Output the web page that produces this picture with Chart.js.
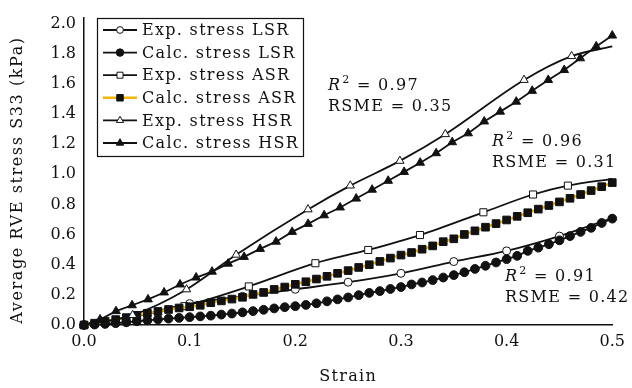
<!DOCTYPE html>
<html><head><meta charset="utf-8">
<script src="https://cdn.jsdelivr.net/npm/chart.js@4.4.1/dist/chart.umd.min.js"></script>
<style>html,body{margin:0;padding:0;background:#fff}#wrap{width:632px;height:388px}</style>
</head><body><div id="wrap"><canvas id="c" width="632" height="388"></canvas></div>
<script>
const xTicks = [0, 0.1, 0.2, 0.3, 0.4, 0.5];
const yTicks = [0, 0.2, 0.4, 0.6, 0.8, 1.0, 1.2, 1.4, 1.6, 1.8, 2.0];
const xTitle = 'Strain';
const yTitle = 'Average RVE stress S33 (kPa)';
const legendLabels = ['Exp. stress LSR','Calc. stress LSR','Exp. stress ASR','Calc. stress ASR','Exp. stress HSR','Calc. stress HSR'];
const fitR2 = ['0.97','0.96','0.91'];
const fitRSME = ['0.35','0.31','0.42'];

const strainCalc = [0,0.01,0.02,0.03,0.04,0.05,0.06,0.07,0.08,0.09,0.1,0.11,0.12,0.13,0.14,0.15,0.16,0.17,0.18,0.19,0.2,0.21,0.22,0.23,0.24,0.25,0.26,0.27,0.28,0.29,0.3,0.31,0.32,0.33,0.34,0.35,0.36,0.37,0.38,0.39,0.4,0.41,0.42,0.43,0.44,0.45,0.46,0.47,0.48,0.49,0.5];
const strainCalcHSR = [0,0.0152,0.0303,0.0455,0.0606,0.0758,0.0909,0.1061,0.1212,0.1364,0.1515,0.1667,0.1818,0.197,0.2121,0.2273,0.2424,0.2576,0.2727,0.2879,0.303,0.3182,0.3333,0.3485,0.3636,0.3788,0.3939,0.4091,0.4242,0.4394,0.4545,0.4697,0.4848,0.5];

const strainExpLSR = [0,0.05,0.1,0.15,0.2,0.25,0.3,0.35,0.4,0.45,0.5];
const stressExpLSR = [0,0.06,0.142,0.19,0.237,0.284,0.343,0.421,0.492,0.59,0.71];
const stressCalcLSR = [0,0.003,0.007,0.012,0.018,0.025,0.031,0.037,0.042,0.047,0.052,0.057,0.062,0.069,0.076,0.084,0.092,0.101,0.11,0.118,0.125,0.133,0.144,0.157,0.17,0.183,0.198,0.213,0.225,0.239,0.252,0.269,0.282,0.298,0.315,0.331,0.35,0.372,0.393,0.415,0.437,0.459,0.492,0.513,0.536,0.562,0.59,0.618,0.645,0.677,0.706];

const strainExpASR = [0,0.05,0.095,0.156,0.219,0.269,0.318,0.378,0.425,0.458,0.5];
const stressExpASR = [0,0.06,0.125,0.256,0.41,0.498,0.597,0.748,0.866,0.925,0.97];
const stressCalcASR = [0,0.012,0.024,0.036,0.049,0.064,0.078,0.09,0.103,0.113,0.121,0.131,0.148,0.16,0.172,0.184,0.203,0.216,0.236,0.252,0.27,0.287,0.305,0.323,0.343,0.361,0.382,0.4,0.422,0.444,0.464,0.481,0.503,0.525,0.553,0.572,0.601,0.625,0.649,0.673,0.697,0.721,0.745,0.769,0.793,0.817,0.841,0.866,0.892,0.918,0.945];

const strainExpHSR = [0,0.046,0.097,0.144,0.212,0.252,0.299,0.342,0.4165,0.4615,0.5];
const stressExpHSR = [0,0.066,0.236,0.466,0.767,0.925,1.089,1.266,1.626,1.784,1.849];
const stressCalcHSR = [0,0.037,0.092,0.131,0.17,0.216,0.269,0.315,0.354,0.407,0.452,0.505,0.553,0.618,0.671,0.728,0.78,0.839,0.898,0.957,1.016,1.077,1.14,1.213,1.272,1.351,1.416,1.482,1.554,1.626,1.692,1.77,1.849,1.921];

const pts = (xs, ys) => xs.map((x, i) => ({x: x, y: ys[i]}));
const SERIF = '"DejaVu Serif", "Liberation Serif", serif';
const INK = '#111';
const noLast = r => c => (c.dataIndex === c.dataset.data.length - 1 ? 0 : r);

function expSet(label, data, style, r, order){
  return {label, data, order, borderColor: INK, borderWidth: 1.8, cubicInterpolationMode: 'monotone',
    pointStyle: style, pointRadius: noLast(r), pointBackgroundColor: '#fff', pointBorderColor: INK,
    pointBorderWidth: 1, clip: false, fill: false};
}
function calcSet(label, data, style, r, order, color, bw){
  return {label, data, order, borderColor: color, borderWidth: bw, tension: 0,
    pointStyle: style, pointRadius: r, pointBackgroundColor: INK, pointBorderColor: INK,
    pointBorderWidth: 1, clip: false, fill: false};
}

const datasets = [
  expSet(legendLabels[0], pts(strainExpLSR, stressExpLSR), 'circle', 4, 6),
  calcSet(legendLabels[1], pts(strainCalc, stressCalcLSR), 'circle', 4.4, 5, INK, 1.8),
  expSet(legendLabels[2], pts(strainExpASR, stressExpASR), 'rect', 5, 4),
  calcSet(legendLabels[3], pts(strainCalc, stressCalcASR), 'rect', 5.4, 3, '#f2b600', 2.5),
  expSet(legendLabels[4], pts(strainExpHSR, stressExpHSR), 'triangle', 4.8, 2),
  calcSet(legendLabels[5], pts(strainCalcHSR, stressCalcHSR), 'triangle', 5, 1, INK, 1.8)
];

function marker(ctx, style, x, y, r, fill, stroke, lw){
  ctx.beginPath();
  if (style === 'circle') ctx.arc(x, y, r, 0, Math.PI * 2);
  else if (style === 'rect') { const s = r * Math.SQRT1_2; ctx.rect(x - s, y - s, 2 * s, 2 * s); }
  else {
    const a = 2 * Math.PI / 3;
    ctx.moveTo(x, y - r);
    ctx.lineTo(x + r * Math.sin(a), y - r * Math.cos(a));
    ctx.lineTo(x + r * Math.sin(2 * a), y - r * Math.cos(2 * a));
    ctx.closePath();
  }
  ctx.fillStyle = fill; ctx.fill();
  ctx.lineWidth = lw; ctx.strokeStyle = stroke; ctx.stroke();
}

function fitNote(ctx, x, y, r2, rs){
  ctx.textAlign = 'left'; ctx.textBaseline = 'middle'; ctx.fillStyle = INK;
  ctx.font = 'italic 16px ' + SERIF;
  ctx.fillText('R', x, y);
  const w = ctx.measureText('R').width;
  ctx.font = '11px ' + SERIF;
  ctx.fillText('2', x + w + 1, y - 6);
  const w2 = ctx.measureText('2').width;
  ctx.font = '16px ' + SERIF;
  ctx.fillText(' = ' + r2, x + w + 1 + w2, y);
  ctx.fillText('RSME = ' + rs, x, y + 21);
}

const overlay = {
  id: 'overlay',
  afterDraw(chart){
    const ctx = chart.ctx, a = chart.chartArea;
    ctx.save();
    ctx.fillStyle = INK;
    ctx.font = '16px ' + SERIF;
    ctx.textAlign = 'center'; ctx.textBaseline = 'middle';
    ctx.letterSpacing = '1.3px';
    ctx.fillText(xTitle, (a.left + a.right) / 2, 377);
    ctx.save();
    ctx.letterSpacing = '1.6px';
    ctx.translate(18, 180);
    ctx.rotate(-Math.PI / 2);
    ctx.fillText(yTitle, 0, 0);
    ctx.restore();
    ctx.letterSpacing = '1.3px';

    // legend
    ctx.fillStyle = '#fff';
    ctx.fillRect(97.5, 18.5, 206, 138);
    ctx.lineWidth = 1.2; ctx.strokeStyle = INK;
    ctx.strokeRect(97.5, 18.5, 206, 138);
    chart.data.datasets.forEach((ds, i) => {
      const y = 30 + i * 22.6;
      ctx.beginPath();
      ctx.moveTo(103, y); ctx.lineTo(137, y);
      ctx.lineWidth = ds.borderWidth; ctx.strokeStyle = ds.borderColor; ctx.stroke();
      const r = typeof ds.pointRadius === 'function' ? ds.pointRadius({dataIndex: 0, dataset: ds}) : ds.pointRadius;
      marker(ctx, ds.pointStyle, 120, y, r * 0.85, ds.pointBackgroundColor, ds.pointBorderColor, 1);
      ctx.fillStyle = INK; ctx.font = '16px ' + SERIF;
      ctx.textAlign = 'left'; ctx.textBaseline = 'middle';
      ctx.fillText(ds.label, 142, y + 1);
    });

    fitNote(ctx, 328, 86, fitR2[0], fitRSME[0]);
    fitNote(ctx, 492, 142, fitR2[1], fitRSME[1]);
    fitNote(ctx, 505, 277, fitR2[2], fitRSME[2]);
    ctx.restore();
  }
};

const tickFont = {family: SERIF, size: 16};
new Chart(document.getElementById('c'), {
  type: 'line',
  data: {datasets},
  options: {
    responsive: false, animation: false, devicePixelRatio: 1,
    layout: {padding: {top: 14, right: 15, left: 0, bottom: 0}},
    plugins: {legend: {display: false}, tooltip: {enabled: false}},
    scales: {
      x: {type: 'linear', min: 0, max: 0.5,
        afterBuildTicks: s => { s.ticks = xTicks.map(v => ({value: v})); },
        afterFit: s => { s.height = 63; },
        grid: {display: false, drawTicks: false},
        border: {display: true, color: INK, width: 1.5},
        ticks: {padding: 7, color: INK, font: tickFont, maxRotation: 0, autoSkip: false, callback: v => Number(v).toFixed(1)}},
      y: {type: 'linear', min: 0, max: 2.04,
        afterBuildTicks: s => { s.ticks = yTicks.map(v => ({value: v})); },
        afterFit: s => { s.width = 84; },
        grid: {display: false, drawTicks: false},
        border: {display: true, color: INK, width: 1.5},
        ticks: {padding: 8, color: INK, font: tickFont, autoSkip: false, callback: v => Number(v).toFixed(1)}}
    }
  },
  plugins: [overlay]
});
</script></body></html>
